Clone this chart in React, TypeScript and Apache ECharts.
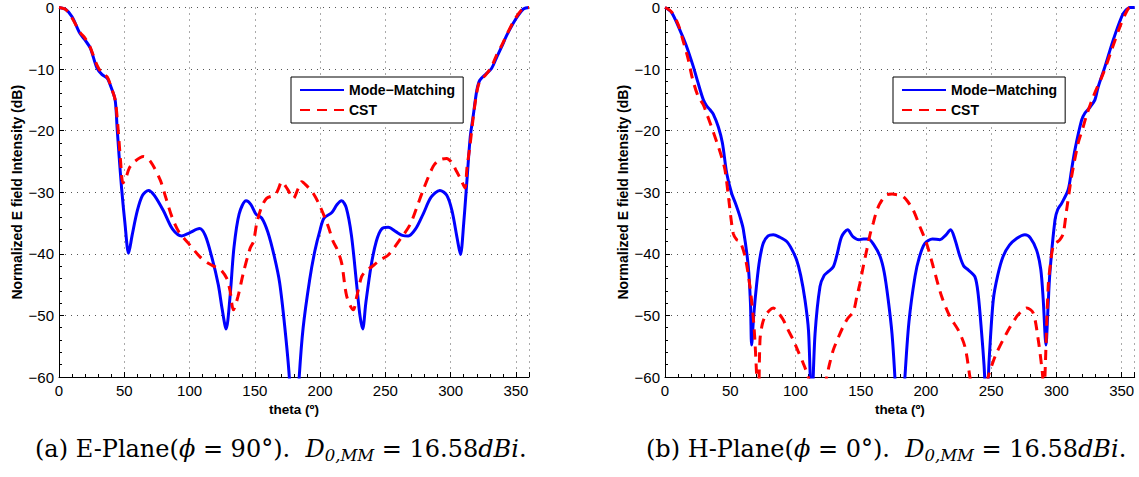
import React, { useEffect, useRef } from "react";
import * as echarts from "echarts";

// ---- data (theta in degrees, normalized field in dB) ----
const ePlaneMM: [number, number][] = [
  [0, 0], [5, -0.3], [10, -1.5], [16, -4.2], [20, -5.3], [24, -6.6], [29, -9.8], [33, -10.9], [37, -11.5],
  [40, -13], [43, -15], [44.5, -19.5], [46, -24], [48, -29.5], [50.5, -35], [53.3, -39.9], [56, -37],
  [60, -33], [64, -30.5], [68.6, -29.7], [73, -30.5], [80, -33], [87, -36], [94, -37.1], [100, -36.6],
  [107.6, -35.9], [112, -37], [117, -40.5], [122, -45], [125, -49], [128, -52.2], [131, -47], [134, -39],
  [138, -33.5], [143.3, -31.4], [147, -32], [151, -33.6], [155.3, -34.2], [160, -36.5], [165, -40.5],
  [169, -44.7], [173, -52], [176.4, -60], [180, -75], [184, -60], [187, -52], [192, -44.2], [196, -39.5],
  [200, -36.1], [203, -34.2], [209, -33.3], [213, -32], [216.5, -31.4], [220, -32.5], [224, -37], [228, -45],
  [230.5, -50], [232.6, -52.2], [235, -48], [239, -42], [243, -38], [247, -36], [252.2, -35.7], [258, -36.4],
  [263, -37], [267.5, -37.1], [273, -36], [279, -33.5], [285, -30.8], [291.7, -29.7], [297, -30.5],
  [301, -33], [305, -37.5], [307.5, -40.1], [310, -35], [312.5, -28], [315, -21], [317.2, -17.7],
  [320, -13.5], [322.3, -11.8], [327, -10.8], [331.3, -9.9], [335, -8.2], [339, -6.4], [343, -4.5],
  [347.8, -2.6], [352, -1.2], [356, -0.2], [360, 0],
];

const ePlaneCST: [number, number][] = [
  [0, 0], [5, -0.3], [10, -1.7], [16, -4], [20, -5], [24, -6.5], [29, -9.3], [33, -10.7], [37, -11.3],
  [40, -13], [43, -15], [45, -19], [47, -24.5], [49, -28.5], [50.7, -28], [54, -26], [58, -25], [64.7, -24.2],
  [70, -25], [77.5, -28], [82, -31], [86.5, -34], [92, -36.5], [99.2, -38.3], [108, -40.5], [114, -41.5],
  [119.6, -42.1], [124, -42.6], [128.5, -44], [131, -46], [133.6, -49.1], [137, -47], [141.2, -43.1],
  [146.4, -39.1], [149, -38], [151.5, -35], [155, -32.5], [159, -31], [165.5, -30.4], [168, -29.5],
  [170.6, -28.3], [175, -29.5], [179.5, -31], [183, -29.5], [185.9, -28.3], [190, -29], [194.8, -30.2],
  [200, -32.3], [206.3, -35.6], [210, -38], [212.7, -39.1], [216.5, -41.5], [220.4, -46.9], [225.4, -49.1],
  [228, -47], [231.8, -43.7], [235, -42.8], [239.5, -42.1], [246, -41], [252.2, -40.2], [261.1, -37.7],
  [268.8, -35.3], [274, -32.5], [279, -29.6], [286.6, -25.8], [291, -24.8], [296.9, -24.5], [301, -25.2],
  [304.5, -26.6], [308, -28], [310.9, -29.3], [312.5, -26], [314.7, -22.6], [317.2, -18], [320, -13.8],
  [322.3, -12], [327, -10.9], [331.3, -9.6], [335, -7.8], [339, -6.2], [343, -4.4], [347.8, -2.4],
  [352, -1], [356, -0.1], [360, 0],
];

const hPlaneMM: [number, number][] = [
  [0, 0], [5, -0.8], [11.5, -3.7], [16, -6], [21.7, -9.6], [25, -12], [29.4, -15], [32, -16], [34.5, -16.6],
  [37, -17.3], [40.9, -19.4], [44, -22], [47.3, -26.9], [51.1, -30.2], [54, -31.8], [57.5, -34],
  [60, -36], [63.8, -42], [65.5, -48], [66.4, -54.8], [68, -50], [70.3, -44.8], [72.5, -41], [75.3, -38.3],
  [79, -37.1], [83, -36.9], [88, -37.3], [93.3, -38], [97, -39.2], [100.9, -41], [104, -43.5], [107.3, -47.5],
  [110, -52.5], [112.4, -65], [115, -53], [118.8, -45.3], [122, -43.5], [125.1, -42.9], [129, -42.1],
  [132, -40], [135.4, -37.2], [140, -36.1], [144, -37.2], [148.7, -37.7], [152, -37.6], [155.8, -37.6],
  [160, -38.5], [164.8, -40.4], [168, -43], [171.1, -47.5], [174, -53], [176.2, -60], [180, -75],
  [183.9, -60], [187, -51], [191.6, -43.7], [195, -40.5], [199.2, -38.3], [205, -37.6], [210.7, -37.7],
  [215, -37], [218.9, -36.1], [222, -37.5], [226, -40.4], [229, -42], [232.4, -42.6], [237.5, -43.7],
  [240, -46.5], [242.7, -52.9], [244.5, -58], [246.5, -65], [248.5, -57], [251.6, -47.5], [255, -43.5],
  [259.2, -40.4], [264, -38.6], [269.5, -37.5], [275.9, -36.9], [280, -37.4], [284.8, -39.4], [288, -42.5],
  [289.9, -47.5], [292, -54.8], [293.5, -49], [295, -43.1], [298.9, -34.5], [301, -32.8], [304, -31.8],
  [309, -29.6], [311.5, -26.5], [314.2, -23.1], [319.3, -18.3], [322, -17.1], [325.7, -16.2], [329.5, -15],
  [332, -12.9], [337.2, -9.6], [343.5, -5.3], [350, -1.5], [353, -0.5], [356.3, 0], [360, 0],
];

const hPlaneCST: [number, number][] = [
  [0, 0], [5, -0.7], [10.2, -2.8], [14, -5.5], [17.9, -8.5], [21, -11.5], [25.5, -14.5], [29.4, -15.8],
  [31.9, -17.2], [35, -19], [39.6, -21.8], [43, -24], [46, -26.4], [48.5, -30.5], [52.3, -36.7], [55, -37.7],
  [57.5, -38], [61.3, -40.4], [65.1, -45.3], [68.2, -51.8], [70.3, -60], [71.5, -66], [72.8, -54],
  [74.5, -51.5], [76.6, -50.2], [80, -49.2], [83, -48.8], [86.5, -49.5], [90.6, -50.7], [94, -52.2],
  [98.3, -54], [102, -55.8], [106, -57.8], [109.8, -60], [117, -66], [123.9, -60], [126, -58], [129, -55.6],
  [133, -53.5], [136.6, -51.8], [140, -50.5], [144.3, -49.4], [147, -47], [149.4, -44.8], [152, -42],
  [154.6, -39.4], [157, -37], [159.6, -35], [162, -33.2], [164.8, -31.8], [169.9, -30.4], [174, -30.3],
  [177.6, -30.4], [180, -30.5], [182.6, -30.7], [186, -31.5], [190.3, -32.9], [195.4, -35.6], [200.5, -38.3],
  [205.6, -42.1], [212, -46.9], [218.4, -50.2], [224.8, -52.4], [229.9, -55.1], [233.7, -60], [240, -68],
  [247.7, -60], [251, -57.8], [254.1, -56.1], [261.8, -52.9], [269.5, -50.2], [274, -49.2], [277.2, -48.8],
  [282.2, -49.6], [286.1, -54], [288.7, -58.3], [289.5, -60], [290.3, -65], [291.2, -60], [293.7, -45.3],
  [295.5, -41.5], [297.5, -38.8], [300, -38.2], [302.7, -37.7], [305.2, -36.7], [307.8, -32.9],
  [311.6, -27.5], [316.7, -22], [320.5, -19.4], [323.1, -17.5], [328.2, -14.5], [335.9, -10.7],
  [342.3, -6.9], [348.7, -3.1], [353, -1], [356.3, 0], [360, 0],
];

const seriesNames = ["Mode\u2212Matching", "CST"];
const xAxisTitle = "theta (\u00ba)";
const yAxisTitle = "Normalized E field Intensity (dB)";
const captionA = "{n|(a) E-Plane(}{i|\u03d5}{n| = 90\u00b0).  }{i|D}{s|0,MM}{n| = 16.58}{i|dBi}{n|.}";
const captionB = "{n|(b) H-Plane(}{i|\u03d5}{n| = 0\u00b0).  }{i|D}{s|0,MM}{n| = 16.58}{i|dBi}{n|.}";

const fmt = (v: number) => (v < 0 ? "\u2212" + String(-v) : String(v));

const SERIF = "DejaVu Serif";
const captionRich = {
  n: { fontFamily: SERIF, fontSize: 24, lineHeight: 30, fill: "#000" },
  i: { fontFamily: SERIF, fontStyle: "italic", fontSize: 24, lineHeight: 30, fill: "#000" },
  s: {
    fontFamily: SERIF, fontStyle: "italic", fontSize: 16.5, lineHeight: 16,
    verticalAlign: "bottom", fill: "#000",
  },
};

export default function App() {
  const ref = useRef<HTMLDivElement>(null);
  useEffect(() => {
    if (!ref.current) return;
    const chart = echarts.init(ref.current, undefined, { renderer: "svg" });

    const grids = [
      { left: 59, right: 610, top: 7.5, bottom: 100 },
      { left: 665, right: 4.3, top: 7.5, bottom: 100 },
    ];

    const mkX = (gi: number) => ({
      type: "value", gridIndex: gi, min: 0, max: 360, interval: 50,
      axisLine: { show: true, onZero: false, lineStyle: { color: "#000", width: 1 } },
      axisTick: { show: true, inside: true, length: 5, lineStyle: { color: "#000" } },
      minorTick: { show: true, splitNumber: 5, length: 3, lineStyle: { color: "#000" } },
      splitLine: { show: true, lineStyle: { color: "#555", type: [1, 5], width: 1 } },
      axisLabel: {
        formatter: (v: number) => (v === 360 ? "" : fmt(v)), fontSize: 15, color: "#000",
        fontFamily: "Liberation Sans", margin: 6, showMaxLabel: false,
      },
      name: xAxisTitle, nameLocation: "middle", nameGap: 24,
      nameTextStyle: { fontWeight: "bold", fontSize: 13.5, color: "#000", fontFamily: "Liberation Sans" },
    });
    const mkY = (gi: number) => ({
      type: "value", gridIndex: gi, min: -60, max: 0, interval: 10,
      axisLine: { show: true, onZero: false, lineStyle: { color: "#000", width: 1 } },
      axisTick: { show: true, inside: true, length: 5, lineStyle: { color: "#000" } },
      minorTick: { show: true, splitNumber: 5, length: 3, lineStyle: { color: "#000" } },
      splitLine: { show: true, lineStyle: { color: "#555", type: [1, 5], width: 1 } },
      axisLabel: { formatter: fmt, fontSize: 15, color: "#000", fontFamily: "Liberation Sans", margin: 5 },
      name: yAxisTitle, nameLocation: "middle", nameGap: 35, nameRotate: 90,
      nameTextStyle: { fontWeight: "bold", fontSize: 14, color: "#000", fontFamily: "Liberation Sans" },
    });

    const mkSeries = (gi: number, mm: [number, number][], cst: [number, number][]) => [
      {
        name: seriesNames[0], type: "line", xAxisIndex: gi, yAxisIndex: gi, data: mm,
        symbol: "none", showSymbol: false, smooth: 0.3, clip: true,
        lineStyle: { color: "#0000ff", width: 3 }, itemStyle: { color: "#0000ff" }, z: 2,
      },
      {
        name: seriesNames[1], type: "line", xAxisIndex: gi, yAxisIndex: gi, data: cst,
        symbol: "none", showSymbol: false, smooth: 0.3, clip: true,
        lineStyle: { color: "#ff0000", width: 3, type: [10, 7] }, itemStyle: { color: "#ff0000" }, z: 3,
      },
    ];

    const mkLegend = (left: number) => ({
      left, top: 77, orient: "vertical", itemWidth: 44, itemHeight: 14, itemGap: 6,
      padding: [6, 8, 6, 8], borderColor: "#000", borderWidth: 1, backgroundColor: "#fff",
      selectedMode: false, data: seriesNames,
      itemStyle: { opacity: 0 },
      textStyle: { fontWeight: "bold", fontSize: 14, fontFamily: "Liberation Sans", color: "#000" },
    });

    chart.setOption({
      animation: false,
      backgroundColor: "#fff",
      grid: grids,
      xAxis: [mkX(0), mkX(1)],
      yAxis: [mkY(0), mkY(1)],
      legend: [mkLegend(291), mkLegend(893)],
      series: [...mkSeries(0, ePlaneMM, ePlaneCST), ...mkSeries(1, hPlaneMM, hPlaneCST)],
      graphic: [
        { type: "text", left: 35, top: 437, style: { text: captionA, rich: captionRich } },
        { type: "text", left: 646, top: 437, style: { text: captionB, rich: captionRich } },
      ],
    });
    return () => chart.dispose();
  }, []);
  return (
    <div
      ref={ref}
      style={{ position: "absolute", left: 0, top: 0, width: 1139, height: 477, background: "#fff" }}
    />
  );
}
